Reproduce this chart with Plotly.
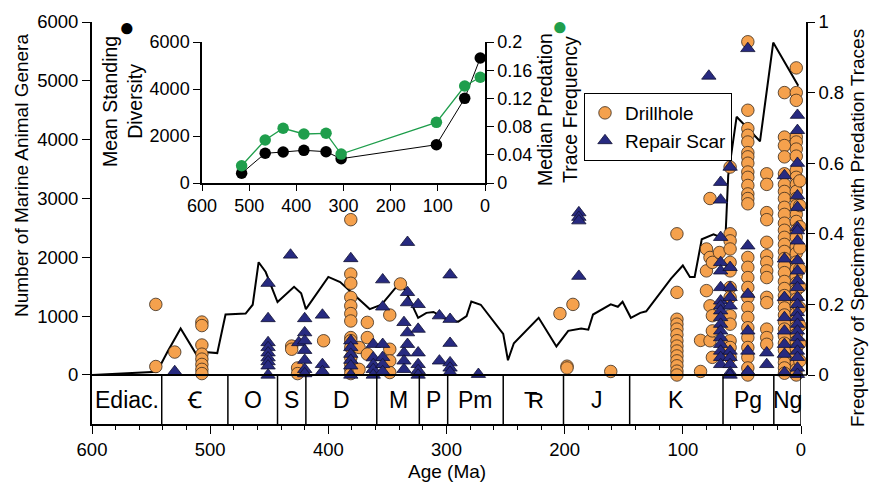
import plotly.graph_objects as go

FONT = "Liberation Sans, Arial, sans-serif"

# ---- main diversity curve (Age Ma, genera)
div_age = [600, 545, 536, 525, 512, 505, 494, 487, 470, 464, 459, 453, 443, 429, 423, 419,
           400, 390, 365, 355, 340, 335, 324, 317, 311, 300, 290, 283, 279, 271, 252, 248,
           243, 222, 207, 197, 186, 180, 176, 161, 155, 151, 144, 136, 131, 118, 110, 100,
           94, 90, 84, 74, 70, 64, 61.6, 54.5, 34.7, 23.5, 2.3]
div_val = [0, 55, 400, 790, 360, 390, 372, 1028, 1045, 1194, 1917, 1750, 1239, 1500, 1389, 1120,
           1667, 1580, 1120, 1194, 1556, 1444, 972, 1056, 1072, 944, 906, 1000, 1250, 1194, 700, 250,
           540, 972, 485, 750, 790, 770, 1028, 1200, 1160, 1245, 972, 1056, 1083, 1417, 1639, 1861,
           1667, 1667, 2306, 2389, 2361, 2306, 3389, 4389, 3972, 5650, 4917]

# ---- drillhole frequencies, grouped by sample age
drill_col_ages = [546, 530, 507, 431, 426, 404, 381, 374, 367, 348, 339, 204, 198, 193, 161,
                  105, 85, 80, 77, 75, 69, 60, 45, 29, 14, 4, 1]
drill_col_freqs = [
    [0.20, 0.024],
    [0.065],
    [0.15, 0.14, 0.085, 0.059, 0.045, 0.03, 0.016, 0.004],
    [0.082, 0.073],
    [0.02, 0.004],
    [0.097],
    [0.44, 0.286, 0.26, 0.22, 0.196, 0.174, 0.153, 0.106, 0.097, 0.078, 0.049, 0.03, 0.016, 0.004],
    [0.078, 0.016],
    [0.149, 0.106, 0.059],
    [0.17, 0.073, 0.04, 0.007],
    [0.258],
    [0.174],
    [0.025, 0.02],
    [0.20],
    [0.01],
    [0.40, 0.234, 0.158, 0.144, 0.13, 0.114, 0.097, 0.082, 0.068, 0.054, 0.04, 0.026, 0.011, 0.0],
    [0.098, 0.01],
    [0.357, 0.295, 0.239],
    [0.50, 0.333, 0.196, 0.097],
    [0.319, 0.168, 0.125, 0.05],
    [0.347],
    [0.589, 0.40, 0.38, 0.357, 0.319, 0.295, 0.248, 0.22, 0.168, 0.144, 0.097, 0.078, 0.05],
    [0.944, 0.75, 0.698, 0.679, 0.66, 0.63, 0.618, 0.60, 0.575, 0.56, 0.537, 0.513, 0.50, 0.485,
     0.333, 0.305, 0.276, 0.248, 0.22, 0.191, 0.163, 0.134, 0.106, 0.078, 0.05, 0.02, 0.0],
    [0.57, 0.54, 0.46, 0.44, 0.376, 0.338, 0.319, 0.295, 0.276, 0.22, 0.205, 0.13, 0.106, 0.087],
    [0.80, 0.674, 0.65, 0.618, 0.57, 0.54, 0.52, 0.50, 0.475, 0.455, 0.43, 0.41, 0.39, 0.37, 0.35,
     0.33, 0.31, 0.29, 0.265, 0.245, 0.225, 0.21, 0.19, 0.17, 0.15, 0.13, 0.11, 0.09, 0.07, 0.05,
     0.035, 0.02, 0.005],
    [0.87, 0.80, 0.778, 0.674, 0.66, 0.64, 0.62, 0.58, 0.56, 0.54, 0.52, 0.50, 0.48, 0.455, 0.435,
     0.41, 0.39, 0.365, 0.345, 0.32, 0.30, 0.28, 0.26, 0.24, 0.215, 0.195, 0.175, 0.155, 0.135,
     0.115, 0.095, 0.075, 0.055, 0.035, 0.015, 0.0],
    [0.55, 0.48, 0.42, 0.36, 0.30, 0.25, 0.19, 0.14, 0.09, 0.04],
]

# ---- repair scar frequencies, grouped by sample age
scar_col_ages = [530, 451, 432, 425, 420, 405, 381, 362, 354, 336, 333, 324, 306, 297, 273, 188,
                 78, 68, 60, 45, 29, 14, 3]
scar_col_freqs = [
    [0.01],
    [0.26, 0.16, 0.092, 0.078, 0.063, 0.049, 0.038, 0.026, 0.0],
    [0.34],
    [0.092],
    [0.16, 0.12, 0.097, 0.07, 0.042, 0.016, 0.004],
    [0.17, 0.03, 0.01],
    [0.33, 0.097, 0.078, 0.059, 0.042, 0.026, 0.0],
    [0.087, 0.049, 0.03, 0.016, 0.0],
    [0.27, 0.193, 0.087, 0.05, 0.03, 0.01],
    [0.149, 0.063, 0.04, 0.016],
    [0.376, 0.234, 0.205, 0.12, 0.087],
    [0.20, 0.13, 0.063, 0.03, 0.013, 0.0],
    [0.168, 0.04],
    [0.284, 0.158, 0.09, 0.035, 0.02, 0.008],
    [0.002],
    [0.46, 0.447, 0.437, 0.28],
    [0.847],
    [0.546, 0.496, 0.39, 0.319, 0.295, 0.248, 0.21, 0.196, 0.182, 0.163, 0.144, 0.125, 0.106,
     0.087, 0.068, 0.05, 0.03],
    [0.589, 0.305, 0.248, 0.22, 0.196, 0.068, 0.05, 0.03, 0.007, 0.0],
    [0.925, 0.366, 0.229, 0.125, 0.068, 0.01],
    [0.063, 0.03],
    [0.565, 0.329, 0.22, 0.163, 0.125, 0.087, 0.059, 0.007],
    [0.736, 0.693, 0.60, 0.508, 0.475, 0.418, 0.409, 0.38, 0.324, 0.295, 0.267, 0.248, 0.22,
     0.20, 0.177, 0.163, 0.144, 0.125, 0.106, 0.087, 0.068, 0.05, 0.02, 0.002],
]

# ---- inset data
inset_age = [516, 466, 428, 384, 337, 305, 103, 43, 10]
inset_div = [413, 1264, 1319, 1391, 1332, 1034, 1630, 3603, 5319]
inset_freq = [0.0245, 0.061, 0.0776, 0.0695, 0.0705, 0.041, 0.086, 0.1376, 0.150]

# ---- geologic timescale
period_names = ["Ediac.", "Ꞓ", "O", "S", "D", "M", "P", "Pm", "TR", "J", "K", "Pg", "Ng"]
period_start = [600, 541, 485, 443, 419, 359, 323, 299, 252, 201, 145, 66, 23]
period_end = [541, 485, 443, 419, 359, 323, 299, 252, 201, 145, 66, 23, 0]

drill_x = [a for a, fs in zip(drill_col_ages, drill_col_freqs) for _ in fs]
drill_y = [f for fs in drill_col_freqs for f in fs]
scar_x = [a for a, fs in zip(scar_col_ages, scar_col_freqs) for _ in fs]
scar_y = [f for fs in scar_col_freqs for f in fs]

ORANGE = "#F5A14D"
NAVY = "#272A80"
GREEN = "#1F9E4C"

fig = go.Figure()
fig.add_trace(go.Scatter(x=div_age, y=div_val, mode="lines", xaxis="x", yaxis="y",
                         line=dict(color="black", width=2), showlegend=False))
fig.add_trace(go.Scatter(x=drill_x, y=drill_y, mode="markers", name="Drillhole",
                         xaxis="x", yaxis="y2", cliponaxis=False,
                         marker=dict(symbol="circle", size=12.5, color=ORANGE,
                                     line=dict(color="#3a2a1a", width=0.8))))
fig.add_trace(go.Scatter(x=scar_x, y=scar_y, mode="markers", name="Repair Scar",
                         xaxis="x", yaxis="y2", cliponaxis=False,
                         marker=dict(symbol="triangle-up", size=12.5, color=NAVY,
                                     line=dict(color="#111133", width=0.8))))
# inset
fig.add_trace(go.Scatter(x=inset_age, y=inset_div, mode="lines+markers", xaxis="x3", yaxis="y3",
                         line=dict(color="black", width=1), showlegend=False, cliponaxis=False,
                         marker=dict(color="black", size=11.5)))
fig.add_trace(go.Scatter(x=inset_age, y=inset_freq, mode="lines+markers", xaxis="x3", yaxis="y4",
                         line=dict(color=GREEN, width=1.3), showlegend=False, cliponaxis=False,
                         marker=dict(color=GREEN, size=11.5)))

L, R, T, B = 92, 66, 22, 60
W, H = 873, 484
PW, PH = W - L - R, H - T - B


def px(xp):
    return (xp - L) / PW


def py(yp):
    return (H - B - yp) / PH


tickfont = dict(family=FONT, size=18.5, color="black")
insetfont = dict(family=FONT, size=18, color="black")
axcommon = dict(showgrid=False, zeroline=False, showline=True, linecolor="black",
                ticks="outside", tickcolor="black", automargin=False)

YLOW = -833
shapes = []
for s in period_end:
    shapes.append(dict(type="line", xref="x", yref="y", x0=s, x1=s, y0=YLOW, y1=0,
                       line=dict(color="black", width=1.5)))
shapes.append(dict(type="line", xref="x", yref="y", x0=600, x1=0, y0=0, y1=0,
                   line=dict(color="black", width=2)))
shapes.append(dict(type="line", xref="paper", yref="y", x0=px(801), x1=1, y0=0, y1=0,
                   line=dict(color="black", width=1.5)))


def ann(x, y, text, xref="paper", yref="paper", size=19, color="black", angle=0, **kw):
    return dict(x=x, y=y, xref=xref, yref=yref, text=text, showarrow=False,
                xanchor="center", yanchor="middle", textangle=angle,
                font=dict(family=FONT, size=size, color=color), **kw)


annotations = []
for name, s, e in zip(period_names, period_start, period_end):
    c = (s + e) / 2
    if name == "TR":
        annotations.append(ann(c, YLOW / 2, "T", "x", "y", size=22, xshift=-3))
        annotations.append(ann(c, YLOW / 2, "R", "x", "y", size=22, xshift=3, yshift=-1))
    else:
        annotations.append(ann(c, YLOW / 2, name, "x", "y", size=23))

annotations += [
    ann(px(21), py(176), "Number of Marine Animal Genera", angle=-90),
    ann(px(857), py(228), "Frequency of Specimens with Predation Traces", angle=-90),
    ann(px(447), py(472), "Age (Ma)"),
    ann(px(122), py(102), "Mean Standing<br>Diversity", angle=-90, size=19.5),
    ann(px(557), py(110), "Median Predation<br>Trace Frequency", angle=-90, size=19.5),
    ann(px(126.5), py(27), "●", size=26),
    ann(px(560), py(26), "●", size=26, color=GREEN),
]

fig.update_layout(
    width=W, height=H,
    margin=dict(l=L, r=R, t=T, b=B, autoexpand=False),
    paper_bgcolor="white", plot_bgcolor="rgba(0,0,0,0)",
    font=dict(family=FONT, size=18, color="black"),
    xaxis=dict(domain=[0, px(801)], range=[600, 0], anchor="y",
               tickvals=[600, 500, 400, 300, 200, 100, 0], ticklen=8, linewidth=2,
               tickfont=tickfont, minor=dict(dtick=20, ticklen=4, ticks="outside",
                                             tickcolor="black"), **axcommon),
    yaxis=dict(domain=[0, 1], range=[YLOW, 6000], anchor="x",
               tickvals=[0, 1000, 2000, 3000, 4000, 5000, 6000], ticklen=8, linewidth=2,
               tickfont=tickfont, **axcommon),
    yaxis2=dict(domain=[py(375), 1], range=[0, 1], anchor="free", position=1,
                side="right", tickvals=[0, 0.2, 0.4, 0.6, 0.8, 1],
                ticktext=["0", "0.2", "0.4", "0.6", "0.8", "1"], ticklen=7, linewidth=1.5,
                tickfont=tickfont, **axcommon),
    xaxis3=dict(domain=[px(202), px(485)], range=[600, 0], anchor="y3",
                tickvals=[600, 500, 400, 300, 200, 100, 0], ticklen=6, linewidth=1.5,
                tickfont=insetfont, **axcommon),
    yaxis3=dict(domain=[py(183), py(42)], range=[0, 6000], anchor="x3",
                tickvals=[0, 2000, 4000, 6000], ticklen=7, linewidth=1.5,
                tickfont=insetfont, **axcommon),
    yaxis4=dict(range=[0, 0.2], anchor="x3", overlaying="y3", side="right",
                tickvals=[0, 0.04, 0.08, 0.12, 0.16, 0.2],
                ticktext=["0", "0.04", "0.08", "0.12", "0.16", "0.2"], ticklen=7, linewidth=1.5,
                tickfont=insetfont, **axcommon),
    legend=dict(x=px(584), y=py(93), xanchor="left", yanchor="top",
                bordercolor="black", borderwidth=1, bgcolor="white",
                font=dict(family=FONT, size=19), tracegroupgap=0,
                itemwidth=30),
    shapes=shapes,
    annotations=annotations,
)

fig.write_html("out.html", config={"displayModeBar": False},
               post_script="document.body.style.margin='0px';document.body.style.overflow='hidden';")
